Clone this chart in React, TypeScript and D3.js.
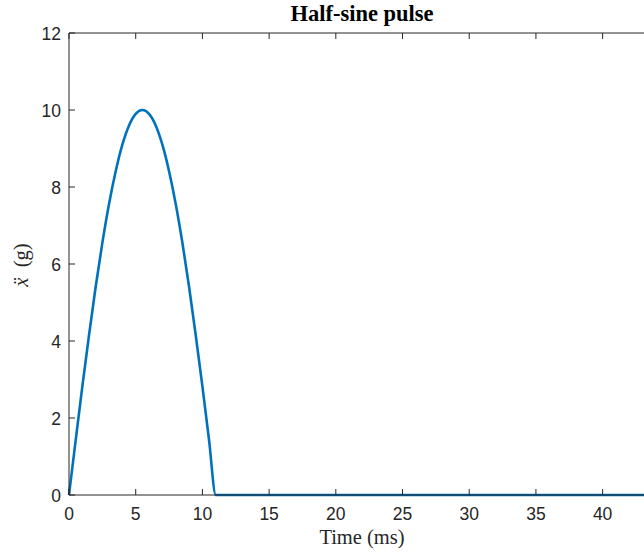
import React from "react";
import * as d3 from "d3";

const timeMs = [0, 0.5, 1, 1.5, 2, 2.5, 3, 3.5, 4, 4.5, 5, 5.5, 6, 6.5, 7, 7.5, 8, 8.5, 9, 9.5, 10, 10.5, 11, 44];
const accelG = [0, 1.42, 2.82, 4.15, 5.41, 6.55, 7.56, 8.41, 9.1, 9.6, 9.9, 10, 9.9, 9.6, 9.1, 8.41, 7.56, 6.55, 5.41, 4.15, 2.82, 1.42, 0, 0];
const xTicks = [0, 5, 10, 15, 20, 25, 30, 35, 40];
const yTicks = [0, 2, 4, 6, 8, 10, 12];

const W = 644, H = 552;
const left = 69, right = 656, top = 33, bottom = 495;

export default function App() {
  const x = d3.scaleLinear().domain([0, 44]).range([left, right]);
  const y = d3.scaleLinear().domain([0, 12]).range([bottom, top]);
  const pts = timeMs.map((t, i) => [t, accelG[i]] as [number, number]);
  const line = d3.line<[number, number]>().x(d => x(d[0])).y(d => y(d[1])).curve(d3.curveMonotoneX)(pts) || "";
  const axisColor = "#262626";
  const tickFont = "'Liberation Sans', Arial, sans-serif";
  const serif = "'Liberation Serif', 'Times New Roman', serif";
  return (
    <svg width={W} height={H} style={{ position: "absolute", left: 0, top: 0, background: "#fff" }}>
      <rect x={0} y={0} width={W} height={H} fill="#fff" />
      <path d={line} fill="none" stroke="#0072BD" strokeWidth={2.6} strokeLinejoin="round" />
      <line x1={left} x2={right} y1={top} y2={top} stroke={axisColor} strokeWidth={1} />
      <line x1={left} x2={right} y1={bottom} y2={bottom} stroke={axisColor} strokeWidth={1} />
      <line x1={left} x2={left} y1={top} y2={bottom} stroke={axisColor} strokeWidth={1} />
      {xTicks.map(t => (
        <g key={"x" + t}>
          <line x1={x(t)} x2={x(t)} y1={bottom} y2={bottom - 6} stroke={axisColor} />
          <line x1={x(t)} x2={x(t)} y1={top} y2={top + 6} stroke={axisColor} />
          <text x={x(t)} y={520} textAnchor="middle" fontFamily={tickFont} fontSize={17.5} fill={axisColor}>{t}</text>
        </g>
      ))}
      {yTicks.map(t => (
        <g key={"y" + t}>
          <line x1={left} x2={left + 6} y1={y(t)} y2={y(t)} stroke={axisColor} />
          <text x={61} y={y(t) + 6.5} textAnchor="end" fontFamily={tickFont} fontSize={17.5} fill={axisColor}>{t}</text>
        </g>
      ))}
      <text x={362} y={21} textAnchor="middle" fontFamily={serif} fontWeight="bold" fontSize={22.5} fill="#000">Half-sine pulse</text>
      <text x={362} y={544} textAnchor="middle" fontFamily={serif} fontSize={20.5} fill="#262626">Time (ms)</text>
      <text transform="translate(28,265) rotate(-90)" textAnchor="middle" fontFamily={serif} fontSize={20.5} fill="#262626">
        <tspan fontStyle="italic">{"x\u0308"}</tspan>
        <tspan>{"\u2002(g)"}</tspan>
      </text>
    </svg>
  );
}
